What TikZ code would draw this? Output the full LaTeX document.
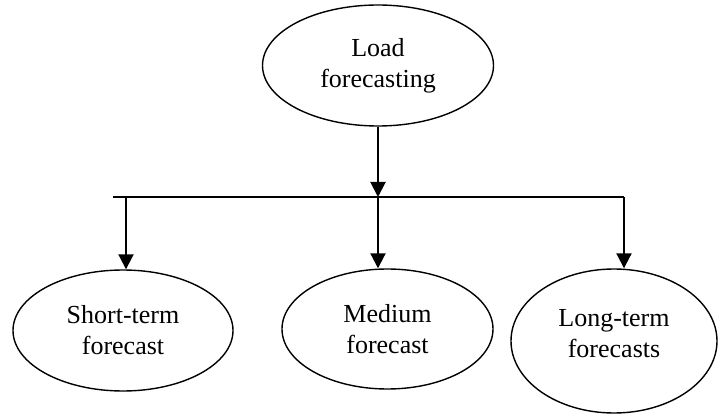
\documentclass[tikz,border=0pt]{standalone}
\usepackage{fontspec}
\setmainfont{Liberation Serif}
\usetikzlibrary{shapes.geometric,arrows.meta}
\begin{document}
\begin{tikzpicture}[x=1pt,y=-1pt,
  oval/.style={draw,ellipse,line width=1.4pt,inner sep=0pt,align=center,
    font=\fontsize{26}{31}\selectfont},
  conn/.style={line width=2pt},
  arr/.style={line width=2pt,-{Triangle[length=15pt,width=15pt]}}]
\useasboundingbox (0,0) rectangle (718,414);
\node[oval,minimum width=231pt,minimum height=121pt] (load) at (378,65.5) {Load\\forecasting};
\node[oval,minimum width=220pt,minimum height=121pt] (short) at (123,330.5) {Short-term\\forecast};
\node[oval,minimum width=211pt,minimum height=120pt] (med) at (387.5,329) {Medium\\forecast};
\node[oval,minimum width=206pt,minimum height=144pt] (long) at (614,341) {Long-term\\forecasts\rule[-16pt]{0pt}{1pt}};
\coordinate (busL) at (113,197);
\coordinate (busR) at (624,197);
\coordinate (j1) at (126,197);
\coordinate (j2) at (378,197);
\draw[arr] (load.south) -- (load.south |- busL);
\draw[conn] (busL) -- (busR);
\draw[arr] (j1) -- (j1 |- short.north);
\draw[arr] (j2) -- (j2 |- med.north);
\draw[arr] (busR) -- (busR |- long.north);
\end{tikzpicture}
\end{document}
